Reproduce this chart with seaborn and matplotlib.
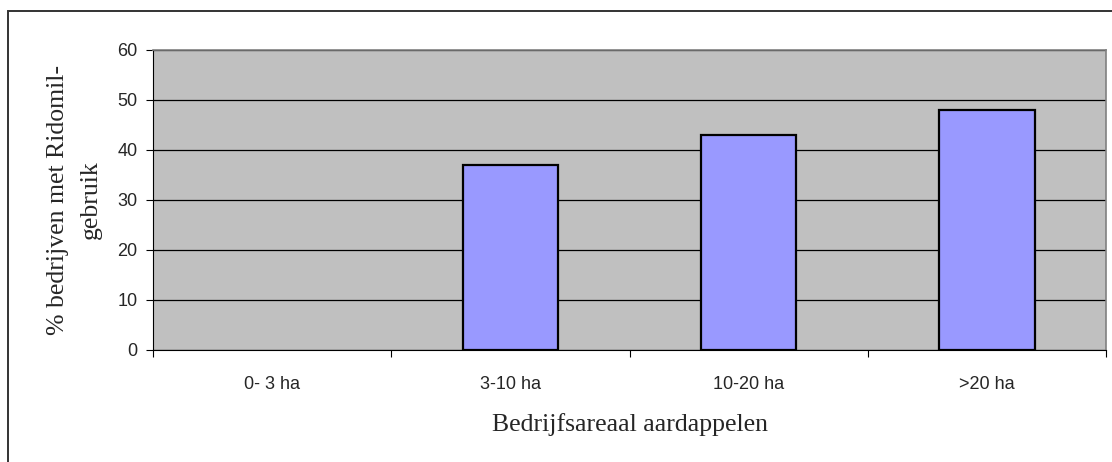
import matplotlib
matplotlib.use("Agg")
import matplotlib.pyplot as plt
import matplotlib.patches as mpatches
import seaborn as sns
import pandas as pd

# Data
categories = ["0- 3 ha", "3-10 ha", "10-20 ha", ">20 ha"]
values = [0, 37, 43, 48]

df = pd.DataFrame({"areaal": categories, "pct": values})

sns.set_style("white")
plt.rcParams['font.family'] = ['Liberation Sans', 'DejaVu Sans']
serif = ['Liberation Serif', 'DejaVu Serif']

fig = plt.figure(figsize=(11.12, 4.62), dpi=100)
ax = fig.add_axes([153 / 1112, 1 - 350 / 462, (1106 - 153) / 1112, 300 / 462])
ax.set_facecolor("#C0C0C0")

sns.barplot(data=df, x="areaal", y="pct", color="#9999FF", width=0.4,
            edgecolor="black", linewidth=1.6, saturation=1, ax=ax, zorder=3)

# Excel does not draw an outline for a zero-height bar
for p in ax.patches:
    if p.get_height() == 0:
        p.set_linewidth(0)

ax.set_ylim(0, 60)
ax.set_yticks(range(0, 61, 10))
ax.set_xlim(-0.5, 3.5)
ax.yaxis.grid(True, color="black", linewidth=0.9, zorder=0)
ax.set_axisbelow(True)

# category boundary ticks like Excel
ax.set_xticks([-0.5, 0.5, 1.5, 2.5, 3.5], minor=True)
ax.tick_params(axis="x", which="major", bottom=True, length=0, pad=19, labelsize=13)
ax.tick_params(axis="x", which="minor", bottom=True, length=5, width=0.8,
               direction="out", color="black")
ax.tick_params(axis="y", left=True, length=5, width=0.8, direction="out",
               color="black", labelsize=13, pad=6)

for side in ["top", "right"]:
    ax.spines[side].set_color("#808080")
    ax.spines[side].set_linewidth(1.2)
for side in ["left", "bottom"]:
    ax.spines[side].set_color("black")
    ax.spines[side].set_linewidth(0.8)

ax.set_xlabel("Bedrijfsareaal aardappelen", family=serif, fontsize=18.5, labelpad=14)
ax.set_ylabel("% bedrijven met Ridomil-\ngebruik", family=serif,
              fontsize=18.5, labelpad=11, linespacing=1.65)

# outer chart border
border = mpatches.Rectangle((8 / 1112, -0.1), 1.2, 1.1 - 11 / 462,
                            transform=fig.transFigure, fill=False,
                            edgecolor="#333333", linewidth=1.4, clip_on=False)
fig.patches.append(border)

fig.savefig("out.png", dpi=100)
